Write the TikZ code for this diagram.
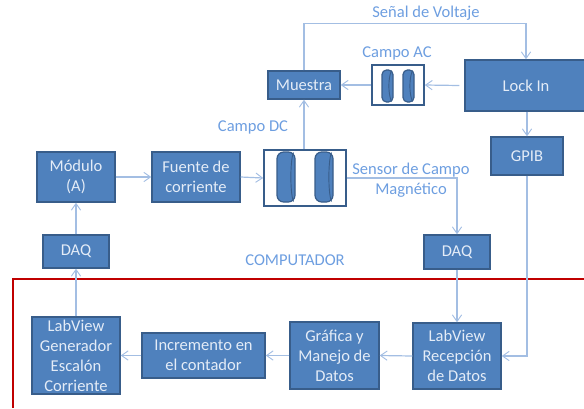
\documentclass[tikz,border=0pt]{standalone}
\usepackage{fontspec}
\setmainfont{Carlito}
\usetikzlibrary{arrows.meta}
\definecolor{boxfill}{HTML}{4F81BD}
\definecolor{boxedge}{HTML}{385D8A}
\definecolor{wirecol}{HTML}{A3BEE3}
\definecolor{labelcol}{HTML}{6D9EE0}
\definecolor{redline}{HTML}{C00000}
\definecolor{boxtext}{HTML}{E4ECF7}
\tikzset{
  x=0.75pt,y=-0.75pt,
  blockbox/.style={draw=boxedge,line width=1.1pt,fill=boxfill,text=boxtext,align=center,inner sep=0pt,
    font=\fontsize{12.4}{15}\selectfont},
  coilframe/.style={draw=boxedge,line width=1.2pt,fill=white,inner sep=0pt},
  wire/.style={draw=wirecol,line width=0.9pt,-{Straight Barb[length=5pt,width=7pt,line width=0.7pt]}},
  caption/.style={text=labelcol,inner sep=0pt,font=\fontsize{12.4}{15}\selectfont,align=center},
  coilbody/.style={draw=boxedge,line width=0.9pt,fill=boxfill},
  coilface/.style={draw=boxedge,line width=0.7pt},
}
\newcommand{\blk}[7][blockbox]{\node[#1,minimum width={(#5-#3)*0.75pt},minimum height={(#6-#4)*0.75pt}] (#2) at ({(#3+#5)/2},{(#4+#6)/2}) {#7};}
\newcommand{\coilshape}[5]{\draw[coilbody,rounded corners=#5] (#1,#2) rectangle (#3,#4);
  \draw[coilface] ({#3-1.5},{#2+0.5}) .. controls ({#3-5},{#2+8}) and ({#3-5},{#4-8}) .. ({#3-1.5},{#4-0.5});}
\begin{document}
\begin{tikzpicture}
\useasboundingbox (0,0) rectangle (584,408);
% computer frame
\draw[redline,line width=1.6pt] (584,279) -- (13,279) -- (13,408);
% blocks
\blk{muestra}{268}{71}{340}{99}{Muestra}
\blk[coilframe]{acframe}{372}{65}{424}{105}{}
\blk{lockin}{465}{60}{587}{111}{Lock In}
\blk{gpib}{491}{137}{563}{175}{GPIB}
\blk[coilframe]{dcframe}{264}{150}{346}{206}{}
\blk{modulo}{37}{152}{115}{202}{Módulo\\(A)}
\blk{fuente}{152}{152}{240}{202}{Fuente de\\corriente}
\blk{daqleft}{43}{235}{109}{268}{DAQ}
\blk{daqright}{424}{235}{490}{269}{DAQ}
\blk{generador}{32}{317}{120}{394}{LabView\\Generador\\Escalón\\Corriente}
\blk{incremento}{142}{333}{265}{378}{Incremento en\\el contador}
\blk{grafica}{290}{322}{379}{389}{Gráfica y\\Manejo de\\Datos}
\blk{recepcion}{413}{323}{501}{389}{LabView\\Recepción\\de Datos}
% coils
\coilshape{382}{70}{393}{102}{3.4pt}
\coilshape{403}{70}{414}{102}{3.4pt}
\coilshape{277}{152}{295}{202}{5pt}
\coilshape{315}{152}{333}{202}{5pt}
% connectors
\draw[wire] (muestra.north) -- ++(0,-47) -| (lockin.north);
\draw[wire] (lockin.west) ++(-5,0) -- (acframe.east);
\draw[wire] (acframe.west) -- (muestra.east);
\draw[wire] (dcframe.north -| muestra.north) -- (muestra.south);
\draw[wire] (lockin.south -| gpib.north) -- (gpib.north);
\draw[wire] (gpib.south) |- (recepcion.east);
\draw[wire] (modulo.east) -- (fuente.west);
\draw[wire] (fuente.east) -- (dcframe.west);
\draw[wire] (dcframe.east) -| (daqright.north);
\draw[wire] (daqright.south) -- (recepcion.north -| daqright.south);
\draw[wire] (recepcion.west) -- (grafica.east);
\draw[wire] (grafica.west) -- (incremento.east);
\draw[wire] (incremento.west) -- (generador.east);
\draw[wire] (generador.north -| daqleft.south) -- (daqleft.south);
\draw[wire] (daqleft.north) -- (modulo.south -| daqleft.north);
% captions
\node[caption] (cvolt) at (426,13) {Señal de Voltaje};
\node[caption] (cac) at (397,53) {Campo AC};
\node[caption] (cdc) at (253,127) {Campo DC};
\node[caption] (csens) at (411,180.5) {Sensor de Campo\\Magnético};
\node[caption] (ccomp) at (295,260) {COMPUTADOR};
\end{tikzpicture}
\end{document}
